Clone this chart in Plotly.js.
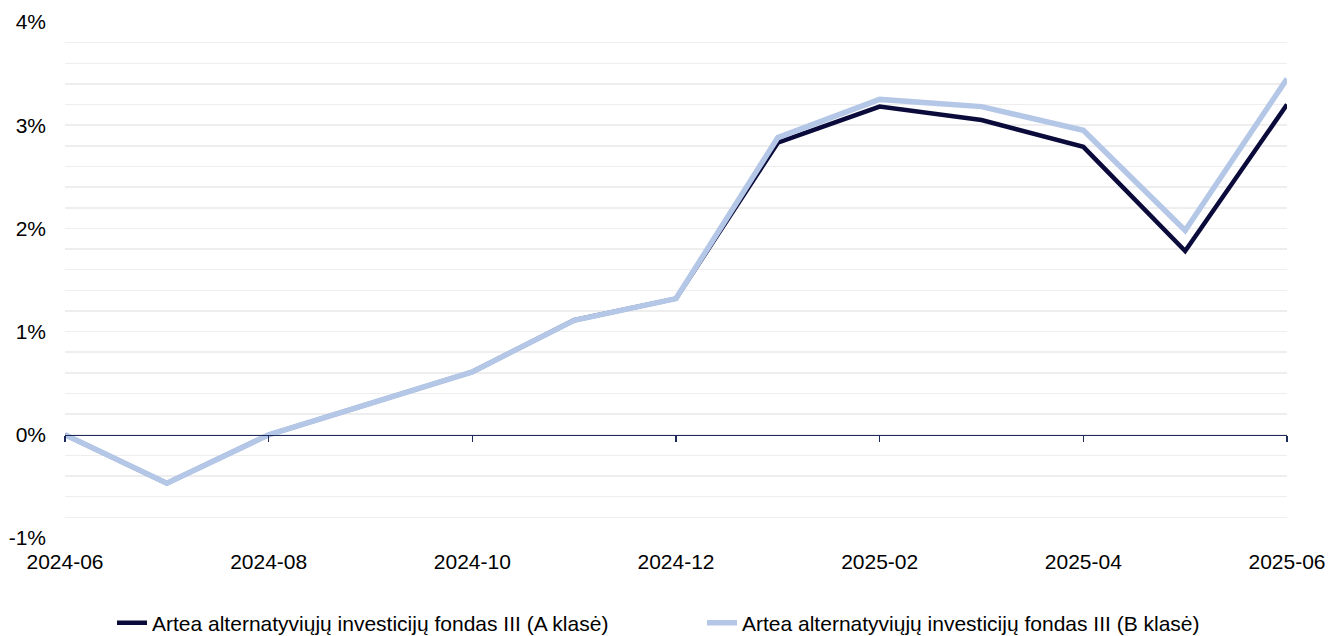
<!DOCTYPE html>
<html>
<head>
<meta charset="utf-8">
<script src="https://cdn.plot.ly/plotly-3.0.1.min.js"></script>
<style>html,body{margin:0;padding:0;background:#fff;}#chart{width:1329px;height:636px;}</style>
</head>
<body>
<div id="chart"></div>
<script>
const months = ['2024-06','2024-07','2024-08','2024-09','2024-10','2024-11','2024-12','2025-01','2025-02','2025-03','2025-04','2025-05','2025-06'];
const seriesA = [0, -0.47, 0.0, 0.31, 0.61, 1.11, 1.32, 2.83, 3.18, 3.05, 2.79, 1.78, 3.20];
const seriesB = [0, -0.47, 0.0, 0.31, 0.61, 1.11, 1.32, 2.88, 3.25, 3.18, 2.95, 1.98, 3.45];
const nameA = 'Artea alternatyviųjų investicijų fondas III (A klasė)';
const nameB = 'Artea alternatyviųjų investicijų fondas III (B klasė)';
const tickMonths = months.filter((m, i) => i % 2 === 0);
const yTicks = [-1, 0, 1, 2, 3, 4];
const yTickText = ['-1%', '0%', '1%', '2%', '3%', '4%'];

const font = {family: '"Liberation Sans", Arial, sans-serif', size: 21, color: '#000'};

const traces = [
  {x: months, y: months.map(() => null), xaxis: 'x2', yaxis: 'y', mode: 'lines', showlegend: false, hoverinfo: 'skip'},
  {x: months, y: seriesA, name: nameA, mode: 'lines', line: {color: '#0b0b3b', width: 4.5}},
  {x: months, y: seriesB, name: nameB, mode: 'lines', line: {color: '#b4c7e7', width: 5.5}}
];

const layout = {
  width: 1329, height: 636,
  margin: {l: 65, r: 42, t: 22, b: 98, autoexpand: false},
  paper_bgcolor: '#fff', plot_bgcolor: '#fff',
  font: font,
  showlegend: true,
  legend: {orientation: 'h', xref: 'container', x: 112 / 1329, xanchor: 'left', yref: 'paper', y: -0.125, yanchor: 'top',
           font: font, tracegroupgap: 0, entrywidth: 545, entrywidthmode: 'pixels'},
  xaxis: {
    type: 'category', range: [0, 12], tickvals: tickMonths, ticktext: tickMonths,
    showgrid: false, zeroline: false, showline: false, ticks: '', tickfont: font, fixedrange: true,
    ticklabelstandoff: 9
  },
  xaxis2: {
    type: 'category', range: [0, 12], overlaying: 'x', anchor: 'free', position: 0.2,
    tickvals: tickMonths, showticklabels: false, ticks: 'outside', ticklen: 6, tickwidth: 1.5,
    tickcolor: '#1f2a5c', showline: true, linecolor: '#1f2a5c', linewidth: 1.6, showgrid: false, zeroline: false
  },
  yaxis: {
    range: [-1, 4], tickvals: yTicks, ticktext: yTickText, showgrid: true, gridcolor: '#eeeeee', gridwidth: 1.5,
    minor: {dtick: 0.2, showgrid: true, gridcolor: '#eeeeee', gridwidth: 1.5},
    zeroline: false, showline: false, ticks: '', tickfont: font, ticklabelstandoff: 18
  }
};

Plotly.newPlot('chart', traces, layout, {displayModeBar: false, staticPlot: true});
</script>
</body>
</html>
